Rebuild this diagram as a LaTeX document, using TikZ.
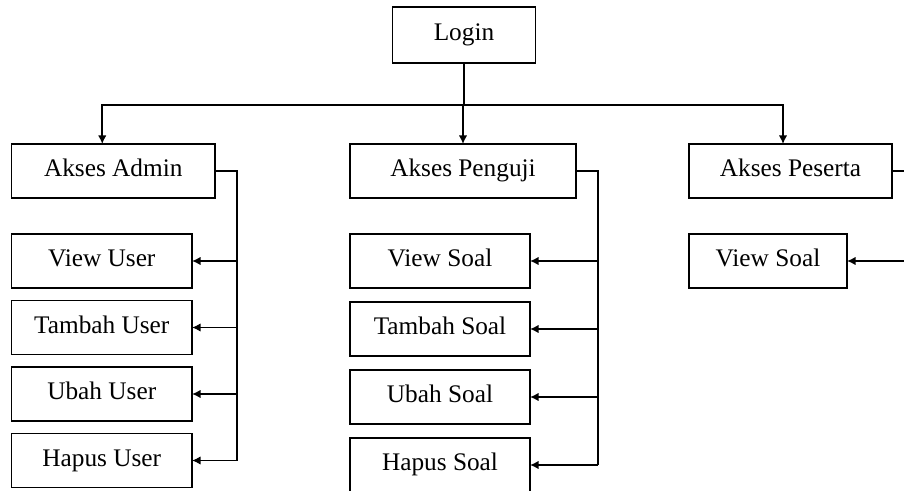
\documentclass[tikz,border=0pt]{standalone}
\usepackage{fontspec}
\setmainfont{Liberation Serif}
\usepackage{tikz}
\usetikzlibrary{positioning,calc,arrows.meta}

\begin{document}
\begin{tikzpicture}
        % Style untuk kotak dan garis
        \tikzstyle{kotak} = [
            draw=black,
            line width=1.1pt,
            minimum height=1.08cm,
            inner sep=0pt,
            outer sep=0pt,
            text height=10pt,
            text depth=3.5pt,
            font=\fontsize{14.4}{17}\selectfont
        ]
        \tikzstyle{garis} = [black, line width=1.1pt]
        \tikzstyle{panah} = [garis, -{Latex[length=1.7mm, width=1.7mm]}]

        % Batas gambar
        \useasboundingbox (0,0) rectangle (18.08,-9.82);
        \clip (0,0) rectangle (18.08,-9.82);

        % Kotak utama
        \node[kotak, minimum width=2.86cm, minimum height=1.12cm] (login) at (9.28,-0.70) {Login};
        \node[kotak, minimum width=4.07cm] (admin) at (2.265,-3.42) {Akses Admin};
        \node[kotak, minimum width=4.52cm] (penguji) at (9.26,-3.42) {Akses Penguji};
        \node[kotak, minimum width=4.06cm] (peserta) at (15.81,-3.42) {Akses Peserta};

        % Menu admin
        \node[kotak, minimum width=3.61cm, below right=0.72cm and 0cm of admin.south west] (viewuser) {View User};
        \node[kotak, minimum width=3.61cm, below=0.25cm of viewuser] (tambahuser) {Tambah User};
        \node[kotak, minimum width=3.61cm, below=0.25cm of tambahuser] (ubahuser) {Ubah User};
        \node[kotak, minimum width=3.61cm, below=0.25cm of ubahuser] (hapususer) {Hapus User};

        % Menu penguji
        \node[kotak, minimum width=3.6cm, below right=0.72cm and 0cm of penguji.south west] (viewsoal) {View Soal};
        \node[kotak, minimum width=3.6cm, below=0.28cm of viewsoal] (tambahsoal) {Tambah Soal};
        \node[kotak, minimum width=3.6cm, below=0.28cm of tambahsoal] (ubahsoal) {Ubah Soal};
        \node[kotak, minimum width=3.6cm, below=0.28cm of ubahsoal] (hapussoal) {Hapus Soal};

        % Menu peserta
        \node[kotak, minimum width=3.16cm, below right=0.72cm and 0cm of peserta.south west] (viewsoalp) {View Soal};

        % Percabangan dari login
        \coordinate (hub) at ([yshift=-0.84cm]login.south);
        \draw[garis] (login.south) -- (hub);
        \draw[panah] (hub) -| ([xshift=-0.22cm]admin.north);
        \draw[panah] (hub) -- (hub -| penguji.north) -- (penguji.north);
        \draw[panah] (hub) -| ([xshift=-0.15cm]peserta.north);

        % Jalur admin
        \coordinate (admbus) at ([xshift=0.44cm]admin.east);
        \draw[garis] (admin.east) -- (admbus) -- (admbus |- hapususer.east);
        \foreach \n in {viewuser,tambahuser,ubahuser,hapususer}
            \draw[panah] (admbus |- \n.east) -- (\n.east);

        % Jalur penguji
        \coordinate (pgjbus) at ([xshift=0.44cm]penguji.east);
        \draw[garis] (penguji.east) -- (pgjbus) -- (pgjbus |- hapussoal.east);
        \foreach \n in {viewsoal,tambahsoal,ubahsoal,hapussoal}
            \draw[panah] (pgjbus |- \n.east) -- (\n.east);

        % Jalur peserta
        \coordinate (psrbus) at ([xshift=0.44cm]peserta.east);
        \draw[garis] (peserta.east) -- (psrbus) -- (psrbus |- viewsoalp.east);
        \draw[panah] (psrbus |- viewsoalp.east) -- (viewsoalp.east);

    \end{tikzpicture}
\end{document}
